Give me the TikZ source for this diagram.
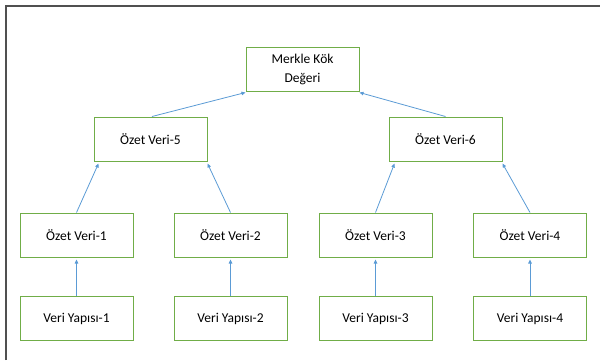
\documentclass[tikz,border=0pt]{standalone}
\usepackage{fontspec}
\setmainfont{Carlito}
\usetikzlibrary{arrows.meta,calc}
\definecolor{boxgreen}{HTML}{70AD47}
\definecolor{linkblue}{HTML}{5B9BD5}
\definecolor{framegray}{HTML}{505050}
\tikzset{
  hashbox/.style={draw=boxgreen, line width=1pt, fill=white, rectangle,
    minimum width=113pt, minimum height=44pt, inner sep=0pt, align=center,
    font=\fontsize{13.5}{19}\selectfont, text=black},
  link/.style={draw=linkblue, line width=0.8pt,
    -{Triangle[length=4pt,width=3.5pt]}, shorten >=0pt}
}
\begin{document}
\begin{tikzpicture}[x=1pt,y=-1pt]
  \useasboundingbox (0,0) rectangle (600,360);
  % page frame (top and left edges)
  \draw[framegray, line width=1.6pt] (6,360) -- (6,6) -- (600,6);

  % root
  \node[hashbox] (root) at (302.5,69.5) {Merkle Kök\\Değeri};
  % intermediate hashes
  \node[hashbox] (o5) at (150.5,139) {Özet Veri-5};
  \node[hashbox] (o6) at (445.5,139) {Özet Veri-6};
  % leaf hashes
  \node[hashbox] (o1) at (76.5,235) {Özet Veri-1};
  \node[hashbox] (o2) at (230.5,235) {Özet Veri-2};
  \node[hashbox] (o3) at (375.5,235) {Özet Veri-3};
  \node[hashbox] (o4) at (530,235) {Özet Veri-4};
  % data blocks
  \node[hashbox] (d1) at (76.5,318.5) {Veri Yapısı-1};
  \node[hashbox] (d2) at (230.5,318.5) {Veri Yapısı-2};
  \node[hashbox] (d3) at (375.5,318.5) {Veri Yapısı-3};
  \node[hashbox] (d4) at (530,318.5) {Veri Yapısı-4};

  % data -> leaf hash
  \foreach \i in {1,2,3,4}
    \draw[link] (d\i.north) -- ($(o\i.south)+(0,2)$);

  % leaf hashes -> intermediate
  \draw[link] (o1.north) -- ($(o5.south west)+(5,2)$);
  \draw[link] (o2.north) -- ($(o5.south east)+(0,2)$);
  \draw[link] (o3.north) -- ($(o6.south west)+(6,2)$);
  \draw[link] (o4.north) -- ($(o6.south east)+(0,2)$);

  % intermediate -> root
  \draw[link] ($(o5.north)+(1.5,0)$) -- ($(root.south west)+(0,0.5)$);
  \draw[link] (o6.north) -- ($(root.south east)+(0,0.5)$);
\end{tikzpicture}
\end{document}
